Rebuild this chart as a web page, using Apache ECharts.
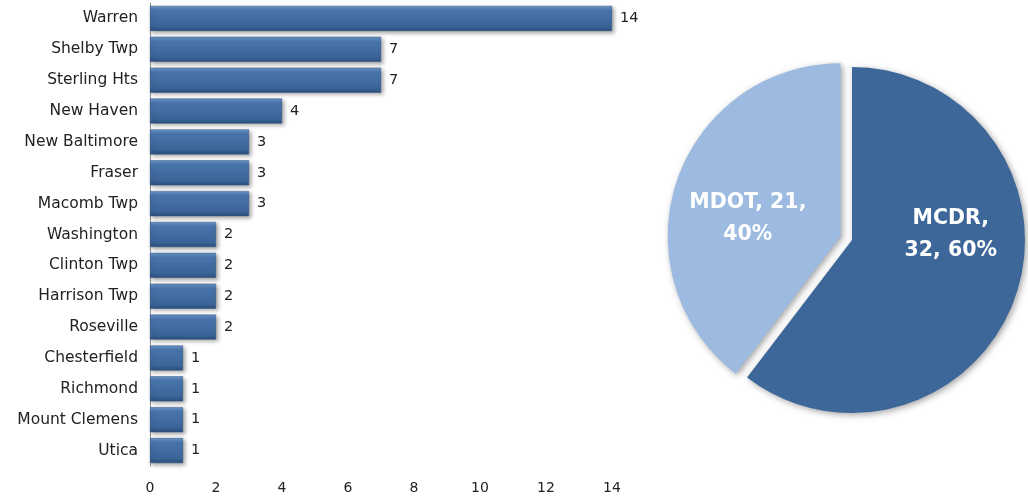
<!DOCTYPE html>
<html>
<head>
<meta charset="utf-8">
<script src="https://cdn.jsdelivr.net/npm/echarts@6/dist/echarts.min.js"></script>
<style>
  html, body { margin: 0; padding: 0; background: #fff; }
  #chart { width: 1028px; height: 497px; }
</style>
</head>
<body>
<div id="chart"></div>
<script>
// bar chart: cities
const cities = [
  "Warren", "Shelby Twp", "Sterling Hts", "New Haven", "New Baltimore",
  "Fraser", "Macomb Twp", "Washington", "Clinton Twp", "Harrison Twp",
  "Roseville", "Chesterfield", "Richmond", "Mount Clemens", "Utica"
];
const cityCounts = [14, 7, 7, 4, 3, 3, 3, 2, 2, 2, 2, 1, 1, 1, 1];

// pie chart: agencies
const agencies = ["MCDR", "MDOT"];
const agencyCounts = [32, 21];
const agencyPercents = [60, 40];
const agencyColors = ["#3e6799", "#9dbbe1"];

const xTicks = [0, 14, 2]; // min, max, interval

const FONT = "DejaVu Sans";

const barGradient = new echarts.graphic.LinearGradient(0, 0, 0, 1, [
  { offset: 0, color: "#6f98cc" },
  { offset: 0.18, color: "#4875ac" },
  { offset: 0.8, color: "#3b6598" },
  { offset: 1, color: "#2b4f7e" }
]);

const chart = echarts.init(document.getElementById("chart"), null, { renderer: "canvas" });

// selected slice needs the label repeated in select state
function pieLabel(name, i) {
  if (name === "MDOT") {
    const lab = { formatter: name + ", " + agencyCounts[i] + ",\n" + agencyPercents[i] + "%", offset: [-8, 11] };
    return { label: lab, select: { label: lab } };
  }
  const lab = { formatter: name + ",\n" + agencyCounts[i] + ", " + agencyPercents[i] + "%", offset: [14, -34] };
  return { label: lab, select: { label: lab } };
}

const option = {
  animation: false,
  backgroundColor: "#ffffff",
  grid: {
    left: 150,
    top: 3,
    width: 462,
    bottom: 31,
    containLabel: false
  },
  xAxis: {
    type: "value",
    min: xTicks[0],
    max: xTicks[1],
    interval: xTicks[2],
    axisLine: { show: false },
    axisTick: { show: false },
    splitLine: { show: false },
    axisLabel: {
      color: "#222",
      fontFamily: FONT,
      fontSize: 14,
      margin: 15
    }
  },
  yAxis: {
    type: "category",
    inverse: true,
    data: cities,
    axisLine: { show: true, lineStyle: { color: "#8c8c8c", width: 1 } },
    axisTick: { show: false },
    axisLabel: {
      color: "#222",
      fontFamily: FONT,
      fontSize: 15.5,
      margin: 12
    }
  },
  series: [
    {
      type: "bar",
      data: cityCounts,
      barWidth: 25,
      itemStyle: {
        color: barGradient,
        borderColor: "#2d5282",
        borderWidth: 0.5,
        shadowColor: "rgba(0,0,0,0.35)",
        shadowBlur: 4,
        shadowOffsetX: 2,
        shadowOffsetY: 2
      },
      label: {
        show: true,
        position: "right",
        distance: 8,
        color: "#222",
        fontFamily: FONT,
        fontSize: 14.5
      }
    },
    {
      type: "pie",
      center: [852, 240],
      radius: 173,
      startAngle: 90,
      clockwise: true,
      selectedMode: "single",
      selectedOffset: 12,
      emphasis: { disabled: true },
      data: agencies.map((name, i) => Object.assign({
        name: name,
        value: agencyCounts[i],
        selected: name === "MDOT",
        itemStyle: {
          color: agencyColors[i],
          shadowColor: "rgba(0,0,0,0.35)",
          shadowBlur: 6,
          shadowOffsetX: 2,
          shadowOffsetY: 2
        }
      }, pieLabel(name, i))),
      label: {
        show: true,
        position: "inside",
        color: "#ffffff",
        fontFamily: FONT,
        fontWeight: "bold",
        fontSize: 20.5,
        lineHeight: 32,
        align: "center"
      },
      labelLine: { show: false }
    }
  ]
};

chart.setOption(option);
</script>
</body>
</html>
